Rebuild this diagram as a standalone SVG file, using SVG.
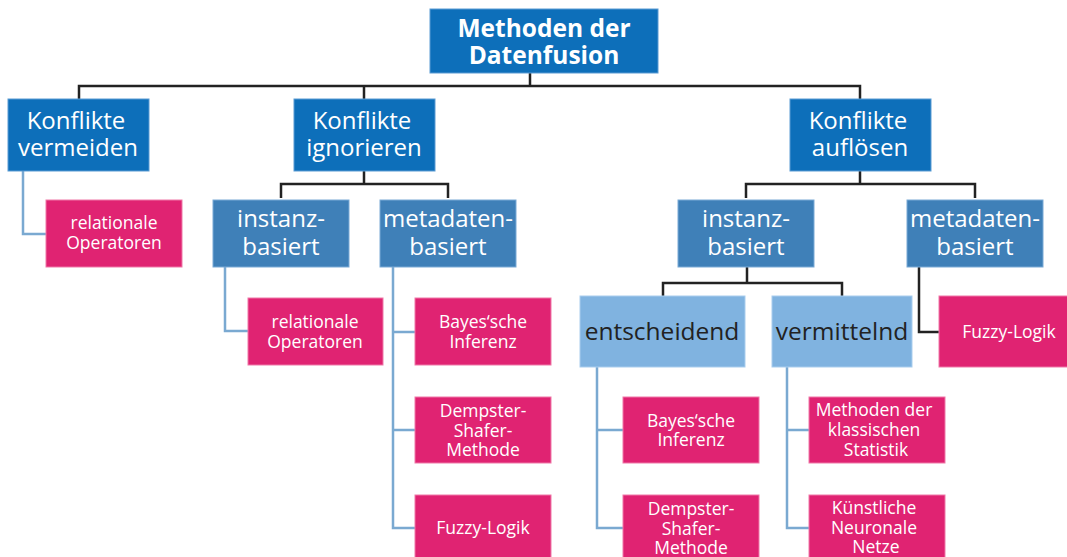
<svg xmlns="http://www.w3.org/2000/svg" width="1067" height="557" viewBox="0 0 1067 557">
<style>
text{font-family:"Open Sans","Liberation Sans",sans-serif;text-anchor:middle}
.l0{fill:#0d6fba;stroke:#5a9bd3;stroke-width:1}
.l1{fill:#0d6fba;stroke:#5a9bd3;stroke-width:1}
.l2{fill:#3f80b8;stroke:#7aaad6;stroke-width:1}
.l3{fill:#80b3e0;stroke:#a9cdee;stroke-width:1}
.pk{fill:#e02372;stroke:#ef78a8;stroke-width:1}
.t0{fill:#fff;font-size:24.5px;font-weight:bold}
.t1{fill:#fff;font-size:24px}
.t3{fill:#222;font-size:24.5px}
.tp{fill:#fff;font-size:17.5px}
.cb{fill:none;stroke:#222;stroke-width:2.5}
.cl{fill:none;stroke:#7aa9d1;stroke-width:2.5}
</style>
<g id="connectors">
<path class="cb" d="M530 73V86M79 99V86H860V99M364 86V99"/>
<path class="cb" d="M364 171V184M281 198V184H448V198"/>
<path class="cb" d="M860 171V184M746 198V184H975V198"/>
<path class="cb" d="M747 267V283M663 296V283H842V296"/>
<path class="cb" d="M919 267V332H939"/>
<path class="cl" d="M23 171V234H46"/>
<path class="cl" d="M225 267V331H248"/>
<path class="cl" d="M393 267V528H415M393 332H415M393 430H415"/>
<path class="cl" d="M597 367V528H623M597 430H623"/>
<path class="cl" d="M787 367V528H809M787 430H809"/>
</g>
<g id="root">
<rect class="l0" x="430" y="9" width="228" height="64"/>
<text class="t0" x="544" y="37">Methoden der</text>
<text class="t0" x="544" y="64">Datenfusion</text>
</g>
<g id="vermeiden">
<rect class="l1" x="8" y="99" width="141" height="72"/>
<text class="t1" x="76" y="129">Konflikte</text>
<text class="t1" x="78" y="156">vermeiden</text>
</g>
<g id="ignorieren">
<rect class="l1" x="294" y="99" width="141" height="72"/>
<text class="t1" x="362" y="129">Konflikte</text>
<text class="t1" x="364" y="156">ignorieren</text>
</g>
<g id="aufloesen">
<rect class="l1" x="790" y="99" width="141" height="72"/>
<text class="t1" x="858" y="129">Konflikte</text>
<text class="t1" x="860" y="156">auflösen</text>
</g>
<g id="rel1">
<rect class="pk" x="46" y="200" width="136" height="67"/>
<text class="tp" x="114" y="229">relationale</text>
<text class="tp" x="114" y="249">Operatoren</text>
</g>
<g id="inst1">
<rect class="l2" x="213" y="200" width="136" height="67"/>
<text class="t1" x="281" y="227">instanz-</text>
<text class="t1" x="281" y="255">basiert</text>
</g>
<g id="meta1">
<rect class="l2" x="380" y="200" width="136" height="67"/>
<text class="t1" x="448" y="227">metadaten-</text>
<text class="t1" x="448" y="255">basiert</text>
</g>
<g id="inst2">
<rect class="l2" x="678" y="200" width="136" height="67"/>
<text class="t1" x="746" y="227">instanz-</text>
<text class="t1" x="746" y="255">basiert</text>
</g>
<g id="meta2">
<rect class="l2" x="907" y="200" width="136" height="67"/>
<text class="t1" x="975" y="227">metadaten-</text>
<text class="t1" x="975" y="255">basiert</text>
</g>
<g id="rel2">
<rect class="pk" x="248" y="298" width="135" height="67"/>
<text class="tp" x="315" y="328">relationale</text>
<text class="tp" x="315" y="348">Operatoren</text>
</g>
<g id="bayes1">
<rect class="pk" x="415" y="298" width="136" height="67"/>
<text class="tp" x="483" y="328">Bayes‘sche</text>
<text class="tp" x="483" y="348">Inferenz</text>
</g>
<g id="dempster1">
<rect class="pk" x="415" y="397" width="136" height="66"/>
<text class="tp" x="483" y="417">Dempster-</text>
<text class="tp" x="483" y="437">Shafer-</text>
<text class="tp" x="483" y="456">Methode</text>
</g>
<g id="fuzzy1">
<rect class="pk" x="415" y="495" width="136" height="66"/>
<text class="tp" x="483" y="534">Fuzzy-Logik</text>
</g>
<g id="entscheidend">
<rect class="l3" x="580" y="296" width="165" height="71"/>
<text class="t3" x="662" y="340">entscheidend</text>
</g>
<g id="vermittelnd">
<rect class="l3" x="772" y="296" width="140" height="71"/>
<text class="t3" x="842" y="340">vermittelnd</text>
</g>
<g id="fuzzy2">
<rect class="pk" x="939" y="296" width="132" height="71"/>
<text class="tp" x="1009" y="338">Fuzzy-Logik</text>
</g>
<g id="bayes2">
<rect class="pk" x="623" y="397" width="136" height="66"/>
<text class="tp" x="691" y="427">Bayes‘sche</text>
<text class="tp" x="691" y="446">Inferenz</text>
</g>
<g id="dempster2">
<rect class="pk" x="623" y="495" width="136" height="66"/>
<text class="tp" x="691" y="515">Dempster-</text>
<text class="tp" x="691" y="535">Shafer-</text>
<text class="tp" x="691" y="554">Methode</text>
</g>
<g id="statistik">
<rect class="pk" x="809" y="397" width="136" height="66"/>
<text class="tp" x="874" y="416">Methoden der</text>
<text class="tp" x="874" y="436">klassischen</text>
<text class="tp" x="876" y="456">Statistik</text>
</g>
<g id="netze">
<rect class="pk" x="809" y="495" width="136" height="66"/>
<text class="tp" x="874" y="514">Künstliche</text>
<text class="tp" x="874" y="534">Neuronale</text>
<text class="tp" x="876" y="553">Netze</text>
</g>
</svg>
